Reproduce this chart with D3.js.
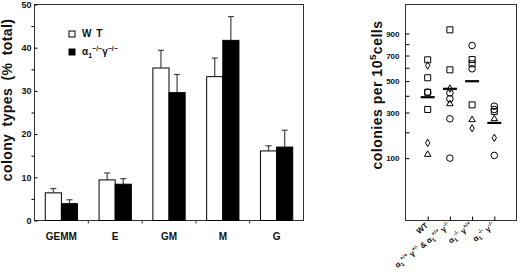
<!DOCTYPE html>
<html>
<head>
<meta charset="utf-8">
<script src="https://cdn.jsdelivr.net/npm/d3@7"></script>
<style>
  body { margin: 0; background: #fff; }
  text { font-family: "Liberation Sans", Arial, sans-serif; fill: #111; }
</style>
</head>
<body>
<script>
// left panel: colony types
const categories = ["GEMM", "E", "GM", "M", "G"];
const series = ["WT", "KO"];
const wtValues = [6.4, 9.4, 35.3, 33.3, 16.1];
const wtErrors = [1.0, 1.6, 4.1, 4.3, 1.2];
const koValues = [3.9, 8.4, 29.6, 41.7, 17.0];
const koErrors = [0.9, 1.3, 4.2, 5.5, 3.9];
const yTicks = [0, 10, 20, 30, 40, 50];
const yMinorTicks = [5, 15, 25, 35, 45];

// right panel: colonies per 10^5 cells (open symbols, bar = mean)
const groups = ["WT", "het", "a1", "dko"];
const wtDots = [["square", 664], ["diamond", 618], ["square", 524], ["square", 423], ["circle", 423], ["square", 317], ["diamond", 155], ["triangle", 112]];
const hetDots = [["square", 935], ["square", 584], ["diamond", 448], ["circle", 419], ["circle", 381], ["triangle", 350], ["circle", 266], ["circle", 100]];
const a1Dots = [["circle", 788], ["square", 667], ["square", 632], ["circle", 592], ["square", 344], ["triangle", 261], ["diamond", 219]];
const dkoDots = [["circle", 336], ["circle", 317], ["square", 306], ["triangle", 266], ["diamond", 176], ["circle", 109]];
const groupMeans = [391, 446, 499, 245];
const rTicks = [100, 300, 500, 700, 900];
const rMinorTicks = [200, 400, 600, 800];

// label pieces: [text, "" | "sub" | "sup"]
const groupLabels = [
  [["WT", ""]],
  [["α", ""], ["1", "sub"], ["+/+", "sup"], [" γ", ""], ["+/-", "sup"], [" & α", ""], ["1", "sub"], ["+/+", "sup"], [" γ", ""], ["-/-", "sup"]],
  [["α", ""], ["1", "sub"], ["-/-", "sup"], [" γ", ""], ["+/+", "sup"]],
  [["α", ""], ["1", "sub"], ["-/-", "sup"], [" γ", ""], ["-/-", "sup"]]
];
const legendLabels = [
  [["W T", ""]],
  [["α", ""], ["1", "sub"], ["−/−", "sup"], ["γ", ""], ["−/−", "sup"]]
];

function richText(sel, parts, size) {
  let off = 0;
  parts.forEach(([t, kind]) => {
    const target = kind === "sup" ? -0.45 * size : kind === "sub" ? 0.25 * size : 0;
    sel.append("tspan")
      .attr("dy", target - off)
      .style("font-size", kind ? (size * 0.7) + "px" : size + "px")
      .text(t);
    off = target;
  });
}

const svg = d3.select("body").append("svg")
  .attr("width", 520)
  .attr("height", 278);

// ---------- left panel ----------
const L = { left: 34.5, right: 303.5, top: 4.5, bottom: 220.5 };

const y = d3.scaleLinear().domain([0, 50]).range([L.bottom, L.top]);
const x = d3.scaleBand().domain(categories).range([L.left, L.right])
  .paddingInner(0.4).paddingOuter(0.2);
const xs = d3.scaleBand().domain(series).range([0, x.bandwidth()]);

const left = svg.append("g");

left.append("rect")
  .attr("x", L.left).attr("y", L.top)
  .attr("width", L.right - L.left).attr("height", L.bottom - L.top)
  .attr("fill", "none").attr("stroke", "#333").attr("stroke-width", 1);

const yAx = left.append("g")
  .attr("transform", `translate(${L.left},0)`)
  .call(d3.axisLeft(y).tickValues(yTicks).tickSize(-3).tickPadding(3));
yAx.select(".domain").remove();
yAx.selectAll("text").style("font-size", "9px").style("font-weight", "bold");

const yMin = left.append("g")
  .attr("transform", `translate(${L.left},0)`)
  .call(d3.axisLeft(y).tickValues(yMinorTicks).tickSize(3).tickFormat(""));
yMin.select(".domain").remove();

// small ticks between categories
const bounds = categories.slice(1).map(c => x(c) - x.step() * x.paddingInner() / 2);
left.selectAll(".xtick").data(bounds).enter().append("line")
  .attr("x1", d => d).attr("x2", d => d)
  .attr("y1", L.bottom).attr("y2", L.bottom + 3)
  .attr("stroke", "#333");

left.selectAll(".cat").data(categories).enter().append("text")
  .attr("x", d => x(d) + x.bandwidth() / 2)
  .attr("y", 239.5)
  .attr("text-anchor", "middle")
  .style("font-size", "10px").style("font-weight", "bold")
  .text(d => d);

const rows = categories.map((c, i) => [
  { cat: c, s: "WT", v: wtValues[i], e: wtErrors[i] },
  { cat: c, s: "KO", v: koValues[i], e: koErrors[i] }
]).flat();

// error bars (upper only)
const err = left.selectAll(".err").data(rows).enter().append("g");
err.append("line")
  .attr("x1", d => x(d.cat) + xs(d.s) + xs.bandwidth() / 2)
  .attr("x2", d => x(d.cat) + xs(d.s) + xs.bandwidth() / 2)
  .attr("y1", d => y(d.v)).attr("y2", d => y(d.v + d.e))
  .attr("stroke", "#444").attr("stroke-width", 1.2);
err.append("line")
  .attr("x1", d => x(d.cat) + xs(d.s) + xs.bandwidth() / 2 - 3)
  .attr("x2", d => x(d.cat) + xs(d.s) + xs.bandwidth() / 2 + 3)
  .attr("y1", d => y(d.v + d.e)).attr("y2", d => y(d.v + d.e))
  .attr("stroke", "#444").attr("stroke-width", 1.2);

left.selectAll(".bar").data(rows).enter().append("rect")
  .attr("x", d => x(d.cat) + xs(d.s))
  .attr("y", d => y(d.v))
  .attr("width", xs.bandwidth())
  .attr("height", d => y(0) - y(d.v))
  .attr("fill", d => d.s === "WT" ? "#fff" : "#000")
  .attr("stroke", "#000").attr("stroke-width", 1);

// legend
const leg = left.append("g");
series.forEach((s, i) => {
  leg.append("rect")
    .attr("x", 69).attr("y", 31 + i * 18)
    .attr("width", 6).attr("height", 6)
    .attr("fill", s === "WT" ? "#fff" : "#000")
    .attr("stroke", "#000");
  const t = leg.append("text")
    .attr("x", 82).attr("y", 37 + i * 18)
    .style("font-weight", "bold");
  if (i === 0) t.style("letter-spacing", "1px");
  richText(t, legendLabels[i], 10);
});

left.append("text")
  .attr("transform", "translate(12,100) rotate(-90)")
  .attr("text-anchor", "middle")
  .style("font-size", "14px").style("font-weight", "bold")
  .style("letter-spacing", "0.4px").style("word-spacing", "3px")
  .text("colony types (% total)");

// ---------- right panel ----------
const R = { left: 405.5, right: 516.5, top: 4.5, bottom: 220.5 };

const ys = d3.scaleSqrt().domain([0, 1200]).range([R.bottom, R.top]);
const xp = d3.scalePoint().domain(groups).range([R.left, R.right]).padding(1);

const right = svg.append("g");

right.append("rect")
  .attr("x", R.left).attr("y", R.top)
  .attr("width", R.right - R.left).attr("height", R.bottom - R.top)
  .attr("fill", "none").attr("stroke", "#333").attr("stroke-width", 1);

const rAx = right.append("g")
  .attr("transform", `translate(${R.left},0)`)
  .call(d3.axisLeft(ys).tickValues(rTicks).tickSize(-4).tickPadding(6));
rAx.select(".domain").remove();
rAx.selectAll("text").style("font-size", "8px").style("font-weight", "bold");

const rMin = right.append("g")
  .attr("transform", `translate(${R.left},0)`)
  .call(d3.axisLeft(ys).tickValues(rMinorTicks).tickSize(-4).tickFormat(""));
rMin.select(".domain").remove();

const rX = right.append("g")
  .attr("transform", `translate(0,${R.bottom})`)
  .call(d3.axisBottom(xp).tickSize(-4).tickFormat(""));
rX.select(".domain").remove();

groupLabels.forEach((parts, i) => {
  const t = right.append("text")
    .attr("transform", `translate(${xp(groups[i]) + 1},${R.bottom + 6}) rotate(-38)`)
    .attr("text-anchor", "end")
    .style("font-weight", "bold");
  richText(t, parts, 8);
});

const allDots = [wtDots, hetDots, a1Dots, dkoDots];
const shapes = {
  square: d3.symbol().type(d3.symbolSquare).size(36),
  circle: d3.symbol().type(d3.symbolCircle).size(34),
  diamond: d3.symbol().type(d3.symbolDiamond).size(16),
  triangle: d3.symbol().type(d3.symbolTriangle).size(18)
};

allDots.forEach((dots, i) => {
  right.selectAll(null).data(dots).enter().append("path")
    .attr("transform", d => `translate(${xp(groups[i])},${ys(d[1])})`)
    .attr("d", d => shapes[d[0]]())
    .attr("fill", "none")
    .attr("stroke", "#000").attr("stroke-width", 1);
});

right.selectAll(".mean").data(groupMeans).enter().append("line")
  .attr("x1", (d, i) => xp(groups[i]) - 7)
  .attr("x2", (d, i) => xp(groups[i]) + 7)
  .attr("y1", d => ys(d)).attr("y2", d => ys(d))
  .attr("stroke", "#000").attr("stroke-width", 2.2);

const rt = right.append("text")
  .attr("transform", "translate(382,95) rotate(-90)")
  .attr("text-anchor", "middle")
  .style("font-weight", "bold")
  .style("letter-spacing", "0.5px");
richText(rt, [["colonies per 10", ""], ["5", "sup"], ["cells", ""]], 14);
</script>
</body>
</html>
